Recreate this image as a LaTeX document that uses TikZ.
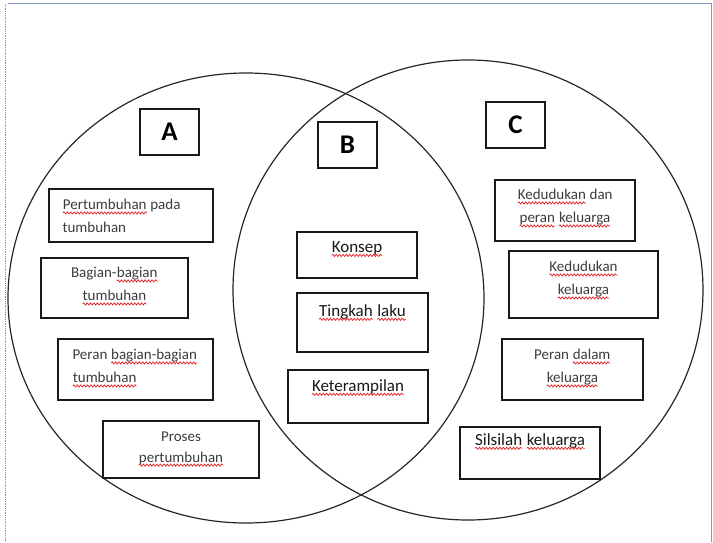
\documentclass[tikz,border=0pt]{standalone}
\usepackage{fontspec}
\setmainfont{Carlito}
\usetikzlibrary{positioning, decorations.pathmorphing}
\definecolor{frameblue}{RGB}{125,155,200}
\definecolor{spellred}{RGB}{225,30,30}
\definecolor{inkgrey}{RGB}{60,60,60}
% red spell-check wave under a word
\newcommand\typo[1]{\tikz[baseline=(w.base)]{%
  \node[inner sep=0pt, outer sep=0pt] (w) {#1};
  \draw[spellred, line width=0.7pt, decorate,
        decoration={snake, amplitude=1.1pt, segment length=3.4pt}]
    ([yshift=-3pt]w.base west) -- ([yshift=-3pt]w.base east);}}

\begin{document}
\begin{tikzpicture}[x=1pt, y=-1pt,
    set ring/.style={draw=black!85, line width=1.2pt},
    item box/.style={rectangle, draw=black!90, line width=1.4pt, inner sep=0pt},
    tag box/.style={item box, minimum width=59pt, minimum height=46pt,
                    font=\fontsize{27}{30}\selectfont\bfseries},
    item text/.style={inner sep=0pt, align=center, text=inkgrey,
                      font=\fontsize{15}{23}\selectfont},
    item dark/.style={item text, text=black!90, font=\fontsize{17}{23}\selectfont},
  ]
  \useasboundingbox (0,0) rectangle (713,542);

  % ============ PAGE FRAME ============
  \draw[frameblue, line width=1pt] (8,3) -- (711,3) -- (711,542);
  \draw[black!45, densely dotted, line width=0.8pt] (5,4) -- (5,542);

  % ============ SETS ============
  \draw[set ring] (246,298) ellipse [x radius=238, y radius=225];
  \draw[set ring] (468,290) ellipse [x radius=235, y radius=230];

  % ============ TAGS ============
  \node[tag box] (tagA) at (169.5,132) {A};
  \node[tag box] (tagB) at (347.5,145) {B};
  \node[tag box] (tagC) at (515.5,125) {C};

  % ============ SET A ============
  \node[item box, minimum width=164pt, minimum height=53pt] (a1) at (131,215.5) {};
  \node[item text, align=left, anchor=north west] (a1t) at ([xshift=14pt, yshift=-11pt]a1.north west)
    {\typo{Pertumbuhan} pada\\tumbuhan};

  \node[item box, minimum width=147pt, minimum height=60pt] (a2) at (114.5,288) {};
  \node[item text, below=10pt of a2.north] (a2t)
    {Bagian-\typo{bagian}\\\typo{tumbuhan}};

  \node[item box, minimum width=155pt, minimum height=61pt] (a3) at (135.5,369.5) {};
  \node[item text, align=left, anchor=north west] (a3t) at ([xshift=15pt, yshift=-11pt]a3.north west)
    {Peran \typo{bagian-bagian}\\\typo{tumbuhan}};

  \node[item box, minimum width=156pt, minimum height=57pt] (a4) at (181,449.5) {};
  \node[item text, below=11pt of a4.north, font=\fontsize{15}{21}\selectfont] (a4t)
    {Proses\\\typo{pertumbuhan}};

  % ============ SET B (overlap) ============
  \node[item box, minimum width=120pt, minimum height=46pt] (b1) at (357,255) {};
  \node[item dark, below=10pt of b1.north] (b1t) {\typo{Konsep}};

  \node[item box, minimum width=131pt, minimum height=59pt] (b2) at (362.5,322.5) {};
  \node[item dark, below=12pt of b2.north] (b2t) {\typo{Tingkah} \typo{laku}};

  \node[item box, minimum width=140pt, minimum height=53pt] (b3) at (358,396.5) {};
  \node[item dark, below=10pt of b3.north] (b3t) {\typo{Keterampilan}};

  % ============ SET C ============
  \node[item box, minimum width=140pt, minimum height=61pt] (c1) at (565,210.5) {};
  \node[item text, below=10pt of c1.north] (c1t)
    {\typo{Kedudukan} dan\\\typo{peran} \typo{keluarga}};

  \node[item box, minimum width=149pt, minimum height=67pt] (c2) at (583.5,284.5) {};
  \node[item text, below=11pt of c2.north] (c2t)
    {\typo{Kedudukan}\\\typo{keluarga}};

  \node[item box, minimum width=141pt, minimum height=61pt] (c3) at (572.5,369.5) {};
  \node[item text, below=11pt of c3.north] (c3t)
    {Peran \typo{dalam}\\\typo{keluarga}};

  \node[item box, minimum width=140pt, minimum height=52pt] (c4) at (530,453) {};
  \node[item dark, below=7pt of c4.north] (c4t) {\typo{Silsilah} \typo{keluarga}};

\end{tikzpicture}
\end{document}
